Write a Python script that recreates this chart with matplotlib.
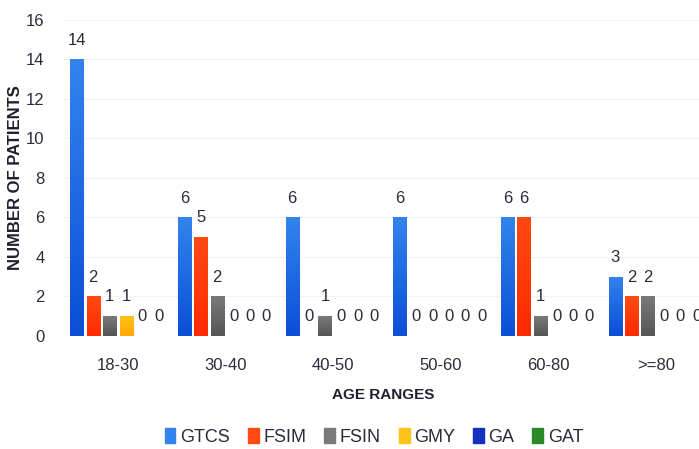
import matplotlib
matplotlib.use("Agg")
import matplotlib.pyplot as plt
import numpy as np
from matplotlib.colors import LinearSegmentedColormap, to_rgb

categories = ["18-30", "30-40", "40-50", "50-60", "60-80", ">=80"]
series_names = ["GTCS", "FSIM", "FSIN", "GMY", "GA", "GAT"]
gtcs = [14, 6, 6, 6, 6, 3]
fsim = [2, 5, 0, 0, 6, 2]
fsin = [1, 2, 1, 0, 1, 2]
gmy = [1, 0, 0, 0, 0, 0]
ga = [0, 0, 0, 0, 0, 0]
gat = [0, 0, 0, 0, 0, 0]
yticks = [0, 2, 4, 6, 8, 10, 12, 14, 16]

series = [gtcs, fsim, fsin, gmy, ga, gat]
# (top colour, bottom colour) for each series' vertical gradient
colors = [("#3383ee", "#0a4fd6"), ("#ff4a12", "#ff2a00"), ("#7a7a7a", "#555555"),
          ("#ffc21a", "#ffa800"), ("#1630c0", "#0a1a9a"), ("#2a8a2a", "#136313")]

plt.rcParams['font.family'] = ['Liberation Sans', 'DejaVu Sans']

fig = plt.figure(figsize=(6.99, 4.49), dpi=100)
ax = fig.add_axes([0.0916, 0.2517, 0.9084, 0.7038])

x = np.arange(len(categories))
slot = 0.152
width = 0.121
n = len(series)

grad = np.linspace(0, 1, 100).reshape(-1, 1)
for i, (vals, name, (ctop, cbot)) in enumerate(zip(series, series_names, colors)):
    offs = (i - (n - 1) / 2) * slot
    bars = ax.bar(x + offs, vals, width, color=ctop, label=name, zorder=2)
    cmap = LinearSegmentedColormap.from_list(name, [to_rgb(cbot), to_rgb(ctop)])
    for b, v in zip(bars, vals):
        if v > 0:
            x0 = b.get_x()
            im = ax.imshow(grad, extent=[x0, x0 + b.get_width(), 0, v], origin="lower",
                           cmap=cmap, aspect="auto", zorder=3)
            im.set_clip_path(b)
        ax.annotate(str(v), (b.get_x() + b.get_width() / 2, v), xytext=(0, 14),
                    textcoords="offset points", ha="center", va="center",
                    fontsize=12, color="#2b2b3b")

ax.set_xlim(-0.5, 5.4)
ax.set_ylim(0, 16)
ax.set_yticks(yticks)
ax.set_xticks(x)
ax.set_xticklabels(categories)
ax.tick_params(length=0, labelsize=12, colors="#2b2b3b")
ax.tick_params(axis="x", pad=16)
ax.tick_params(axis="y", pad=14)
for s in ax.spines.values():
    s.set_visible(False)
ax.yaxis.grid(True, color="#eef3f8", linewidth=0.8, zorder=0)
ax.set_axisbelow(True)

fig.text(0.022, 0.604, "NUMBER OF PATIENTS", rotation=90, ha="center", va="center",
         fontsize=12, fontweight="bold", color="#1f1f2f")
fig.text(0.548, 0.12, "AGE RANGES", ha="center", va="center",
         fontsize=11, fontweight="bold", color="#1f1f2f")

handles = [plt.Rectangle((0, 0), 1, 1, color=c[0]) for c in colors]
fig.legend(handles, series_names, loc="center", bbox_to_anchor=(0.535, 0.027), ncol=6,
           frameon=False, fontsize=13, handlelength=0.6, handleheight=0.9,
           handletextpad=0.25, columnspacing=1.0, labelcolor="#2b2b3b")

fig.savefig("out.png", dpi=100)
